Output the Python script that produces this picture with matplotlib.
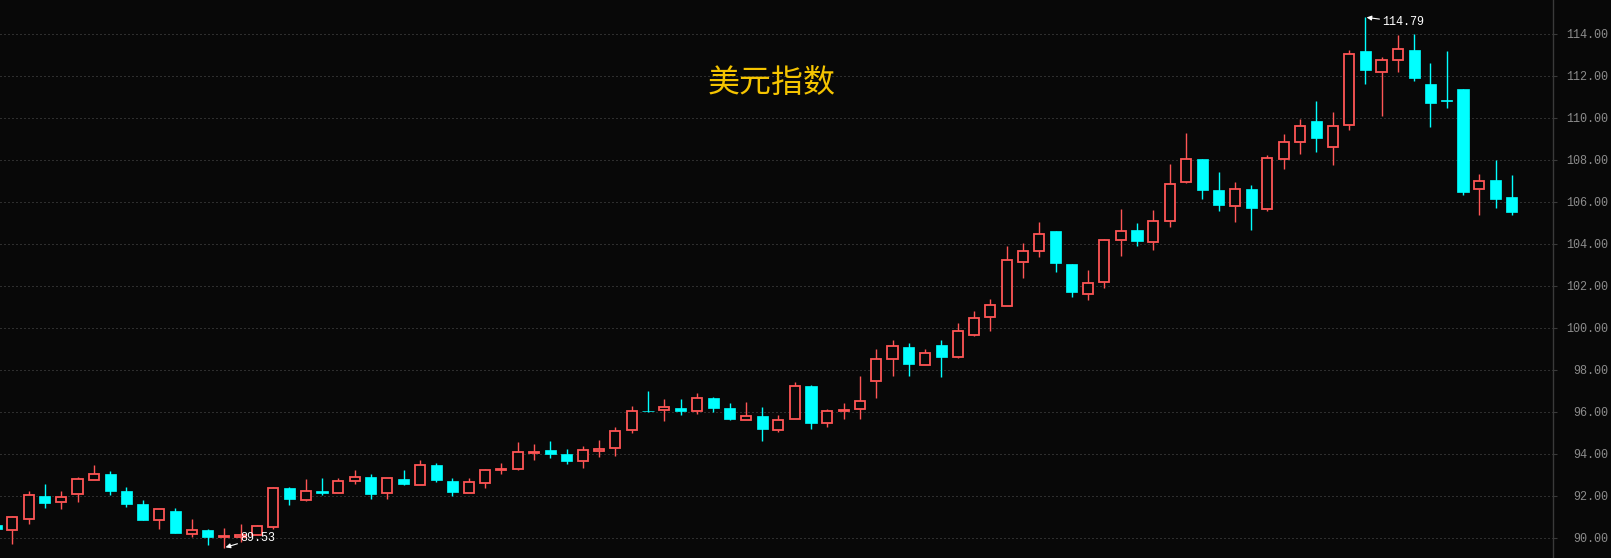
import matplotlib
matplotlib.use("Agg")
import matplotlib.pyplot as plt
import numpy as np

# ---- data ----
opens = [90.60, 90.37, 90.89, 91.97, 91.70, 92.08, 92.75, 93.06, 92.21, 91.59, 90.84,
         91.30, 90.17, 90.35, 90.06, 90.03, 90.13, 90.51, 92.35, 91.79, 92.25, 92.13,
         92.70, 92.92, 92.13, 92.78, 92.51, 93.49, 92.73, 92.13, 92.60, 93.25, 93.27,
         94.06, 94.16, 93.97, 93.65, 94.13, 94.27, 95.13, 96.06, 96.08, 96.16, 96.03,
         96.68, 96.16, 95.60, 95.78, 95.13, 95.65, 97.25, 95.45, 96.06, 96.13, 97.46,
         98.51, 99.11, 98.22, 99.16, 98.60, 99.65, 100.51, 101.03, 103.13, 103.65,
         104.59, 103.02, 101.62, 102.19, 104.17, 104.68, 104.10, 105.10, 106.94, 108.02,
         106.54, 105.79, 106.59, 105.65, 108.05, 108.84, 109.83, 108.62, 109.67, 113.16,
         112.19, 112.76, 113.21, 111.63, 110.84, 111.35, 106.62, 107.02, 106.25]
highs = [90.90, 91.02, 92.21, 92.54, 92.21, 92.92, 93.49, 93.16, 92.40, 91.78, 91.35,
         91.44, 90.92, 90.44, 90.49, 90.68, 90.63, 92.44, 92.40, 92.78, 92.87, 92.87,
         93.21, 93.02, 92.87, 93.21, 93.73, 93.54, 92.83, 92.87, 93.30, 93.54, 94.54,
         94.49, 94.59, 94.21, 94.35, 94.68, 95.30, 96.30, 96.97, 96.63, 96.63, 96.92,
         96.73, 96.40, 96.49, 96.25, 95.87, 97.44, 97.30, 96.14, 96.44, 97.73, 98.97,
         99.44, 99.30, 98.97, 99.40, 100.21, 100.78, 101.35, 103.92, 104.06, 105.02,
         104.63, 103.06, 102.73, 104.25, 105.68, 104.97, 105.63, 107.78, 109.30, 108.02,
         107.40, 106.92, 106.78, 108.21, 109.25, 109.95, 110.78, 110.30, 113.24, 114.79,
         112.90, 113.94, 113.98, 112.59, 113.16, 111.35, 107.32, 108.00, 107.27]
lows = [90.20, 89.73, 90.68, 91.40, 91.35, 91.73, 92.75, 92.03, 91.49, 90.83, 90.44,
        90.21, 90.02, 89.68, 89.53, 89.80, 90.13, 90.41, 91.56, 91.75, 92.03, 92.13,
        92.56, 91.84, 91.84, 92.51, 92.51, 92.65, 91.98, 92.13, 92.37, 93.03, 93.22,
        93.70, 93.79, 93.51, 93.32, 93.84, 93.89, 94.98, 96.00, 95.54, 95.87, 95.89,
        95.97, 95.59, 95.60, 94.63, 95.06, 95.65, 95.16, 95.30, 95.68, 95.68, 96.65,
        97.73, 97.73, 98.22, 97.68, 98.56, 99.60, 99.83, 101.03, 102.37, 103.37,
        102.65, 101.46, 101.32, 101.89, 103.41, 103.89, 103.70, 104.79, 106.89, 106.13,
        105.54, 105.03, 104.65, 105.56, 107.56, 108.27, 108.37, 107.75, 109.41, 111.60,
        110.08, 112.19, 111.75, 109.56, 110.46, 106.32, 105.37, 105.70, 105.37]
closes = [90.40, 90.97, 92.02, 91.68, 91.95, 92.78, 93.02, 92.21, 91.59, 90.87, 91.35,
          90.25, 90.35, 90.06, 90.09, 90.14, 90.54, 92.35, 91.84, 92.24, 92.13, 92.71,
          92.92, 92.08, 92.83, 92.56, 93.49, 92.75, 92.17, 92.68, 93.25, 93.29, 94.11,
          94.10, 93.98, 93.65, 94.16, 94.25, 95.11, 96.06, 96.03, 96.21, 96.06, 96.68,
          96.16, 95.68, 95.78, 95.16, 95.63, 97.21, 95.49, 96.05, 96.10, 96.52, 98.52,
          99.14, 98.27, 98.81, 98.60, 99.87, 100.49, 101.11, 103.21, 103.68, 104.49,
          103.08, 101.70, 102.14, 104.16, 104.62, 104.13, 105.11, 106.87, 108.02, 106.56,
          105.84, 106.59, 105.70, 108.11, 108.83, 109.59, 109.03, 109.63, 113.05, 112.27,
          112.76, 113.29, 111.89, 110.70, 110.81, 106.46, 107.00, 106.13, 105.51]
ytick_values = [90, 92, 94, 96, 98, 100, 102, 104, 106, 108, 110, 112, 114]
title_text = "美元指数"

# ---- style ----
BG = "#080808"
UP = "#ff5555"
DOWN = "#00ffff"
GRID = "#555555"
AXC = "#3a3a3a"
TXT = "#8c8c8c"

o = np.array(opens); h = np.array(highs); l = np.array(lows); c = np.array(closes)
n = len(o)
x = np.arange(n) - 1  # first candle is the partially visible one

fig = plt.figure(figsize=(16.11, 5.58), dpi=100, facecolor=BG)
ax = fig.add_axes([0, 0, 1553 / 1611, 1])
ax.set_facecolor(BG)

up = c >= o
dn = ~up

# wicks
top = np.maximum(o, c); bot = np.minimum(o, c)
ax.vlines(x[up], top[up], h[up], color=UP, lw=1.0, zorder=2)
ax.vlines(x[up], l[up], bot[up], color=UP, lw=1.0, zorder=2)
ax.vlines(x[dn], l[dn], h[dn], color=DOWN, lw=1.0, zorder=2)

# bodies
hgt = np.maximum(top - bot, 0.03)
ax.bar(x[up], hgt[up], bottom=bot[up], width=0.62, facecolor=BG, edgecolor=UP,
       linewidth=1.3, zorder=3)
ax.bar(x[dn], hgt[dn], bottom=bot[dn], width=0.68, facecolor=DOWN, edgecolor=DOWN,
       linewidth=0.5, zorder=3)

ax.set_xlim(-0.755, 94.52)
ax.set_ylim(89.04, 115.61)

# grid & axis
ax.set_yticks(ytick_values)
ax.set_yticklabels([f"{v:.2f}" for v in ytick_values])
ax.yaxis.tick_right()
ax.tick_params(axis="y", colors=AXC, length=3, width=0.8, pad=37,
               labelcolor=TXT, labelsize=8.5)
for lab in ax.get_yticklabels():
    lab.set_horizontalalignment("right")
    lab.set_fontfamily("Liberation Mono")
ax.set_xticks([])
for v in ytick_values:
    ax.axhline(v, color=GRID, lw=0.72, ls=(0, (1, 3)), zorder=1)
for s in ["left", "top", "bottom"]:
    ax.spines[s].set_visible(False)
ax.spines["right"].set_color(AXC)
ax.spines["right"].set_linewidth(1.0)

# extreme annotations
imax = int(np.argmax(h)); imin = int(np.argmin(l))
ax.annotate(f"{h[imax]:.2f}", xy=(x[imax], h[imax]), xytext=(17, -5),
            textcoords="offset pixels", ha="left", va="center", color="white",
            fontsize=8.5, family="Liberation Mono",
            arrowprops=dict(arrowstyle="-|>", color="white", lw=0.8,
                            mutation_scale=7, shrinkA=0, shrinkB=1))
ax.annotate(f"{l[imin]:.2f}", xy=(x[imin], l[imin]), xytext=(16, 10),
            textcoords="offset pixels", ha="left", va="center", color="white",
            fontsize=8.5, family="Liberation Mono",
            arrowprops=dict(arrowstyle="-|>", color="white", lw=0.8,
                            mutation_scale=7, shrinkA=0, shrinkB=1))

fig.text(772 / 1611, 1 - 84 / 558, title_text, color="#f5c400", fontsize=23,
         family=["Noto Sans CJK SC", "DejaVu Sans"], ha="center", va="center")

fig.savefig("out.png", dpi=100, facecolor=BG)
